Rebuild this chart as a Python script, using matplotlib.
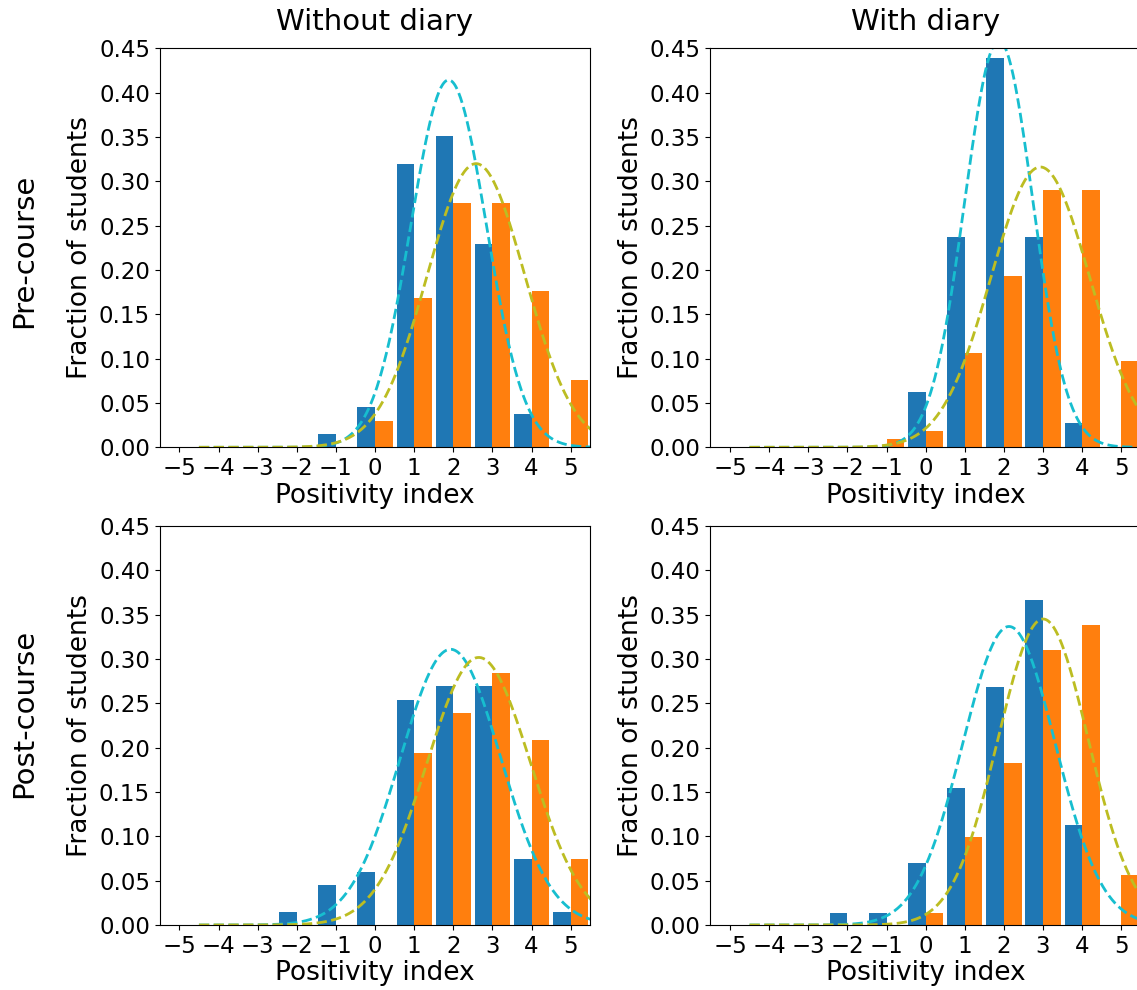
import numpy as np
import matplotlib

matplotlib.use("Agg")
from matplotlib import pyplot as plt

# positivity index scale
index = np.arange(-5, 6)

# fraction of students per positivity index (-5..5), blue / orange series
pre_without_blue = [0, 0, 0, 0, 0.015, 0.046, 0.320, 0.351, 0.229, 0.038, 0]
pre_without_orange = [0, 0, 0, 0, 0, 0.030, 0.168, 0.275, 0.275, 0.176, 0.076]
pre_with_blue = [0, 0, 0, 0, 0, 0.062, 0.237, 0.439, 0.237, 0.027, 0]
pre_with_orange = [0, 0, 0, 0, 0.009, 0.018, 0.106, 0.193, 0.290, 0.290, 0.097]
post_without_blue = [0, 0, 0, 0.015, 0.045, 0.060, 0.254, 0.269, 0.269, 0.075, 0.015]
post_without_orange = [0, 0, 0, 0, 0, 0, 0.194, 0.239, 0.284, 0.209, 0.075]
post_with_blue = [0, 0, 0, 0.014, 0.014, 0.070, 0.155, 0.268, 0.366, 0.113, 0]
post_with_orange = [0, 0, 0, 0, 0, 0.014, 0.099, 0.183, 0.310, 0.338, 0.056]

# fitted normal curves (mean, sd), same panel order
fit_blue_mean = [1.88, 1.87, 1.93, 2.13]
fit_blue_sd = [0.963, 0.87, 1.283, 1.185]
fit_orange_mean = [2.58, 2.93, 2.65, 3.00]
fit_orange_sd = [1.247, 1.262, 1.322, 1.156]

col_titles = ["Without diary", "With diary"]
row_titles = ["Pre-course", "Post-course"]
panels = [(pre_without_blue, pre_without_orange), (pre_with_blue, pre_with_orange),
          (post_without_blue, post_without_orange), (post_with_blue, post_with_orange)]


def normal_pdf(x, mean, sd):
    return np.exp(-0.5 * ((x - mean) / sd) ** 2) / (sd * np.sqrt(2 * np.pi))


W, H = 1137, 990
fig = plt.figure(figsize=(W / 100, H / 100), dpi=100)

lefts = [159.8, 710.4]
tops = [48.3, 526.0]
ax_w, ax_h = 430.5, 399.0
width = 0.45
xs = np.linspace(-4.5, 6, 400)

for i, (blue, orange) in enumerate(panels):
    r, c = divmod(i, 2)
    ax = fig.add_axes([lefts[c] / W, 1 - (tops[r] + ax_h) / H, ax_w / W, ax_h / H])
    ax.bar(index - width / 2, blue, width=width, color="tab:blue")
    ax.bar(index + width / 2, orange, width=width, color="tab:orange")
    ax.plot(xs, normal_pdf(xs, fit_blue_mean[i], fit_blue_sd[i]), "--", color="tab:cyan", lw=2)
    ax.plot(xs, normal_pdf(xs, fit_orange_mean[i], fit_orange_sd[i]), "--", color="tab:olive", lw=2)
    ax.set_xlim(-5.5, 5.5)
    ax.set_ylim(0, 0.45)
    ax.set_xticks(index)
    ax.set_yticks(np.arange(0, 0.46, 0.05))
    ax.tick_params(labelsize=16.5)
    ax.set_xlabel("Positivity index", fontsize=19, labelpad=2)
    ax.set_ylabel("Fraction of students", fontsize=19, labelpad=4)
    if r == 0:
        ax.set_title(col_titles[c], fontsize=21, pad=13)

fig.text(24 / W, 1 - 251 / H, row_titles[0], rotation=90, fontsize=21, ha="center", va="center")
fig.text(24 / W, 1 - 713 / H, row_titles[1], rotation=90, fontsize=21, ha="center", va="center")

fig.savefig("out.png", dpi=100)
